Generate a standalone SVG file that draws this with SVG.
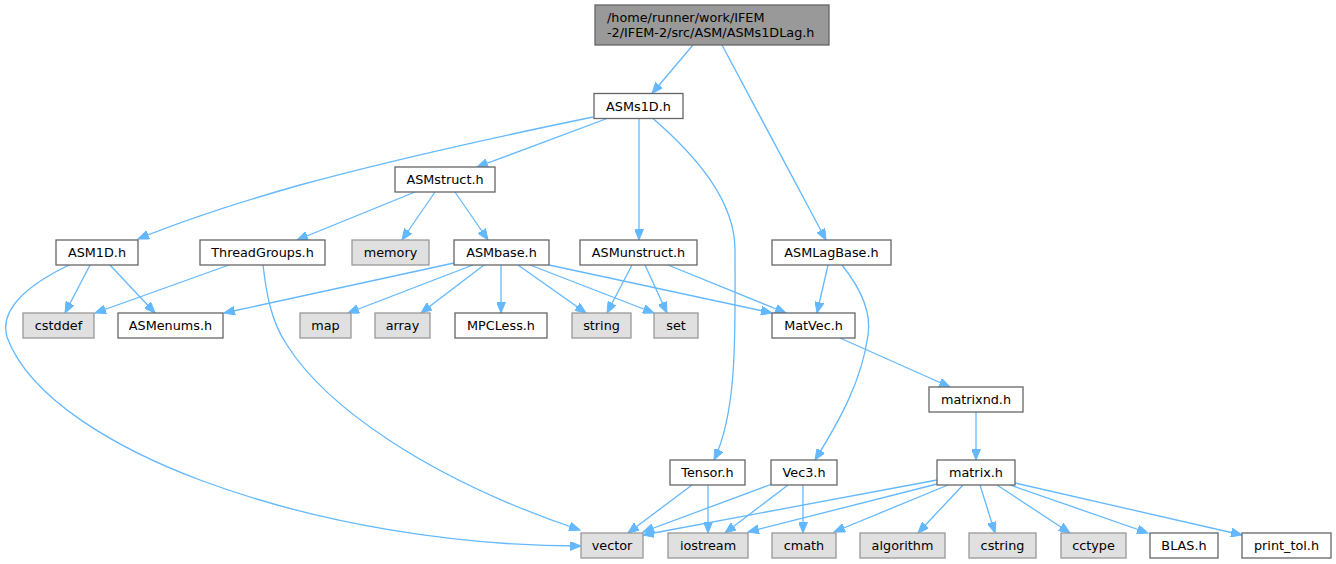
<svg xmlns="http://www.w3.org/2000/svg" width="1336" height="564" viewBox="0 0 1336 564">
<style>
text{font-family:"DejaVu Sans","Liberation Sans",sans-serif;font-size:12.8px;fill:#000;text-anchor:middle}
.n rect{fill:#fff;stroke:#666;stroke-width:1.3}
.s rect{fill:#e0e0e0;stroke:#999;stroke-width:1.3}
.r rect{fill:#999;stroke:#666;stroke-width:1.3}
.r text{text-anchor:start}
#edges path{fill:none;stroke:#63b8ff;stroke-width:1.3;marker-end:url(#ah)}
</style>
<defs>
<marker id="ah" markerUnits="userSpaceOnUse" markerWidth="12" markerHeight="9" refX="11" refY="4.5" orient="auto" viewBox="0 0 12 9">
<path d="M0,0 L11,4.5 L0,9 z" fill="#63b8ff" stroke="#63b8ff" stroke-width="1"/>
</marker>
</defs>
<rect width="1336" height="564" fill="#fff"/>
<g id="edges">
<path d="M693,45 L652,93.5"/>
<path d="M722,45 L826,240"/>
<path d="M593,117 C530,130 410,155 300,185 C240,202 180,222 138,239"/>
<path d="M607,118.5 L477,167"/>
<path d="M639,118.5 L639,240"/>
<path d="M653,118.5 C695,155 735,200 735,250 C735,330 738,410 714,460"/>
<path d="M415,192 L297,240"/>
<path d="M435,192 L402,240"/>
<path d="M455,192 L488,240"/>
<path d="M90,265 L65,313"/>
<path d="M110,265 L155,313"/>
<path d="M69,265 C38,280 -2,305 7,337 C30,400 120,450 200,480 C320,525 460,546 581,546"/>
<path d="M229,265 L95,313"/>
<path d="M263,265 C266,290 270,320 287,345 C325,405 425,478 580,530"/>
<path d="M454,263 L224,313"/>
<path d="M473,265 L348,313"/>
<path d="M484,265 L421,313"/>
<path d="M501,265 L501,313"/>
<path d="M518,265 L586,313"/>
<path d="M530,265 L654,313"/>
<path d="M549,265 L772,313"/>
<path d="M632,265 L607,313"/>
<path d="M645,265 L667,313"/>
<path d="M668,265 L786,313"/>
<path d="M828,265 L817,313"/>
<path d="M842,265 C858,285 872,310 868,335 C862,380 840,420 815,460"/>
<path d="M840,338 L950,387"/>
<path d="M976,412 L976,460"/>
<path d="M692,485 L628,533"/>
<path d="M708,485 L708,533"/>
<path d="M772,484 L643,532"/>
<path d="M788,485 L725,533"/>
<path d="M803,485 L803,533"/>
<path d="M937,480 L643,535"/>
<path d="M937,484 L748,532"/>
<path d="M948,485 L834,532"/>
<path d="M963,485 L918,533"/>
<path d="M980,485 L995,533"/>
<path d="M997,485 L1070,533"/>
<path d="M1010,485 L1148,533"/>
<path d="M1015,483 L1242,535"/>
</g>
<g id="root" class="r"><rect x="595" y="5" width="234" height="40"/><text x="607" y="21.5">/home/runner/work/IFEM</text><text x="607" y="36.5">-2/IFEM-2/src/ASM/ASMs1DLag.h</text></g>
<g id="ASMs1D" class="n"><rect x="594" y="93.5" width="89" height="25"/><text x="638.5" y="110.5">ASMs1D.h</text></g>
<g id="ASMstruct" class="n"><rect x="395" y="167" width="100" height="25"/><text x="445" y="184">ASMstruct.h</text></g>
<g id="ASM1D" class="n"><rect x="56" y="240" width="82" height="25"/><text x="97" y="257">ASM1D.h</text></g>
<g id="ThreadGroups" class="n"><rect x="200" y="240" width="125" height="25"/><text x="262.5" y="257">ThreadGroups.h</text></g>
<g id="memory" class="s"><rect x="352" y="240" width="77" height="25"/><text x="390.5" y="257">memory</text></g>
<g id="ASMbase" class="n"><rect x="454" y="240" width="95" height="25"/><text x="501.5" y="257">ASMbase.h</text></g>
<g id="ASMunstruct" class="n"><rect x="580" y="240" width="117" height="25"/><text x="638.5" y="257">ASMunstruct.h</text></g>
<g id="ASMLagBase" class="n"><rect x="772" y="240" width="119" height="25"/><text x="831.5" y="257">ASMLagBase.h</text></g>
<g id="cstddef" class="s"><rect x="23" y="313" width="71" height="25"/><text x="58.5" y="330">cstddef</text></g>
<g id="ASMenums" class="n"><rect x="118" y="313" width="105" height="25"/><text x="170.5" y="330">ASMenums.h</text></g>
<g id="map" class="s"><rect x="300" y="313" width="51" height="25"/><text x="325.5" y="330">map</text></g>
<g id="array" class="s"><rect x="375" y="313" width="55" height="25"/><text x="402.5" y="330">array</text></g>
<g id="MPCLess" class="n"><rect x="455" y="313" width="92" height="25"/><text x="501" y="330">MPCLess.h</text></g>
<g id="string" class="s"><rect x="572" y="313" width="59" height="25"/><text x="601.5" y="330">string</text></g>
<g id="set" class="s"><rect x="654" y="313" width="44" height="25"/><text x="676" y="330">set</text></g>
<g id="MatVec" class="n"><rect x="772" y="313" width="83" height="25"/><text x="813.5" y="330">MatVec.h</text></g>
<g id="matrixnd" class="n"><rect x="929" y="387" width="94" height="25"/><text x="976" y="404">matrixnd.h</text></g>
<g id="Tensor" class="n"><rect x="670" y="460" width="75" height="25"/><text x="707.5" y="477">Tensor.h</text></g>
<g id="Vec3" class="n"><rect x="771" y="460" width="66" height="25"/><text x="804" y="477">Vec3.h</text></g>
<g id="matrix" class="n"><rect x="937" y="460" width="78" height="25"/><text x="976" y="477">matrix.h</text></g>
<g id="vector" class="s"><rect x="581" y="533" width="62" height="25"/><text x="612" y="550">vector</text></g>
<g id="iostream" class="s"><rect x="668" y="533" width="80" height="25"/><text x="708" y="550">iostream</text></g>
<g id="cmath" class="s"><rect x="772" y="533" width="64" height="25"/><text x="804" y="550">cmath</text></g>
<g id="algorithm" class="s"><rect x="860" y="533" width="85" height="25"/><text x="902.5" y="550">algorithm</text></g>
<g id="cstring" class="s"><rect x="969" y="533" width="67" height="25"/><text x="1002.5" y="550">cstring</text></g>
<g id="cctype" class="s"><rect x="1061" y="533" width="65" height="25"/><text x="1093.5" y="550">cctype</text></g>
<g id="BLAS" class="n"><rect x="1150" y="533" width="68" height="25"/><text x="1184" y="550">BLAS.h</text></g>
<g id="print_tol" class="n"><rect x="1242" y="533" width="89" height="25"/><text x="1286.5" y="550">print_tol.h</text></g>
</svg>
